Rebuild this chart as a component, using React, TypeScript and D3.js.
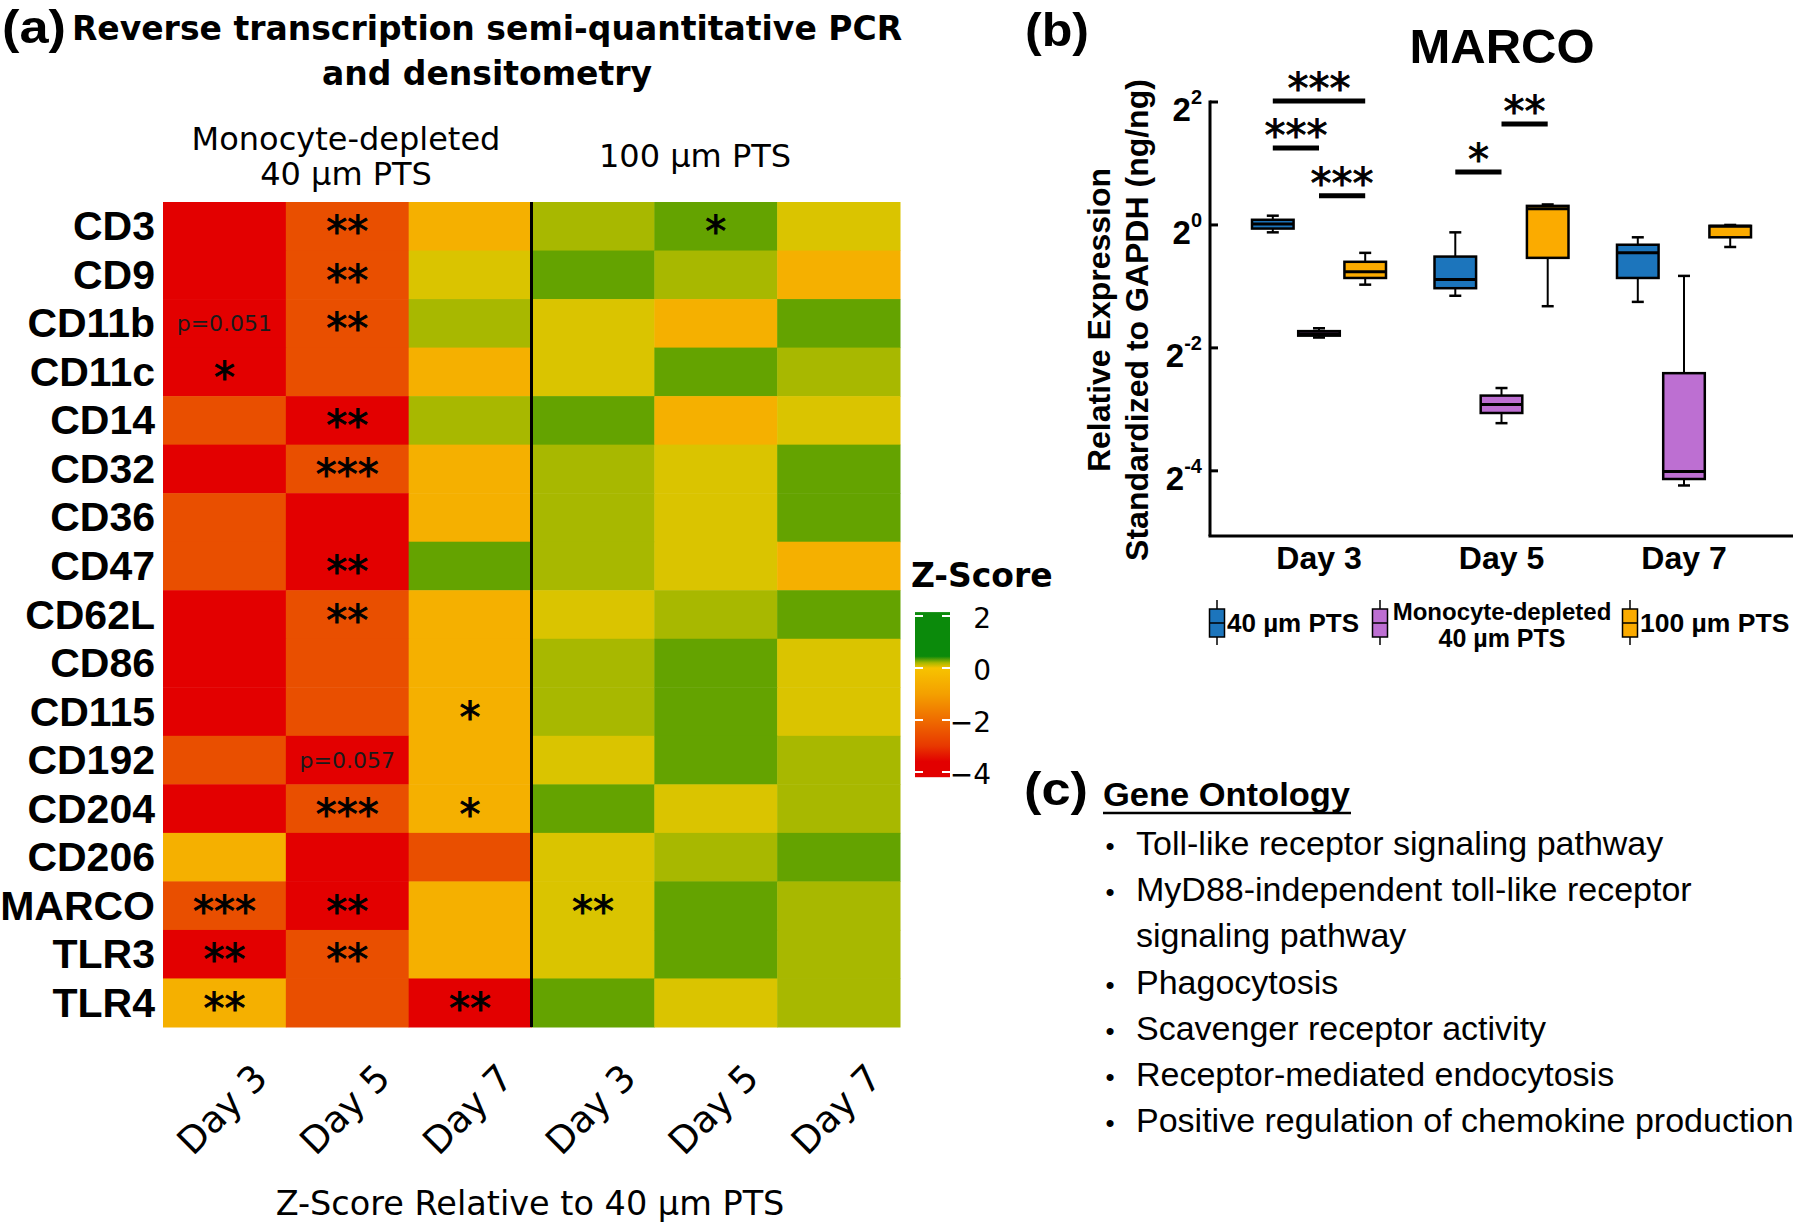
import React from "react";
import * as d3 from "d3";

const W = 1800, H = 1228;
const ARIAL = "'Liberation Sans', Arial, sans-serif";
const VERD = "'DejaVu Sans', Verdana, sans-serif";

// ---------- (a) heatmap data ----------
const genes = ["CD3", "CD9", "CD11b", "CD11c", "CD14", "CD32", "CD36", "CD47", "CD62L", "CD86", "CD115", "CD192", "CD204", "CD206", "MARCO", "TLR3", "TLR4"];
const heatDays = ["Day 3", "Day 5", "Day 7", "Day 3", "Day 5", "Day 7"];

// z-score vs 40 um PTS, monocyte-depleted 40 um PTS (day 3, 5, 7)
const zMono = [
  [-3.5, -2.3, -0.9], [-3.4, -2.2, -0.2], [-3.3, -2.4, 0.3], [-3.6, -2.3, -0.9],
  [-2.5, -3.5, 0.3], [-3.5, -2.4, -0.9], [-2.4, -3.6, -0.9], [-2.3, -3.4, 0.8],
  [-3.5, -2.4, -0.9], [-3.6, -2.3, -0.9], [-3.4, -2.4, -0.9], [-2.4, -3.3, -0.8],
  [-3.5, -2.3, -0.9], [-0.9, -3.6, -2.4], [-2.4, -3.5, -0.9], [-3.5, -2.4, -0.9],
  [-0.9, -2.4, -3.6],
];
// 100 um PTS (day 3, 5, 7)
const z100 = [
  [0.3, 0.9, -0.2], [0.8, 0.3, -0.9], [-0.2, -0.8, 0.9], [-0.2, 0.8, 0.3],
  [0.9, -0.8, -0.2], [0.3, -0.2, 0.8], [0.3, -0.2, 0.9], [0.3, -0.2, -0.9],
  [-0.2, 0.3, 0.8], [0.3, 0.9, -0.2], [0.3, 0.9, -0.2], [-0.2, 0.9, 0.3],
  [0.8, -0.2, 0.3], [-0.2, 0.3, 0.9], [-0.2, 0.9, 0.3], [-0.2, 0.9, 0.3],
  [0.8, -0.2, 0.3],
];
const sigMono = [
  ["", "**", ""], ["", "**", ""], ["p=0.051", "**", ""], ["*", "", ""],
  ["", "**", ""], ["", "***", ""], ["", "", ""], ["", "**", ""],
  ["", "**", ""], ["", "", ""], ["", "", "*"], ["", "p=0.057", ""],
  ["", "***", "*"], ["", "", ""], ["***", "**", ""], ["**", "**", ""],
  ["**", "", "**"],
];
const sig100 = [
  ["", "*", ""], ["", "", ""], ["", "", ""], ["", "", ""],
  ["", "", ""], ["", "", ""], ["", "", ""], ["", "", ""],
  ["", "", ""], ["", "", ""], ["", "", ""], ["", "", ""],
  ["", "", ""], ["", "", ""], ["**", "", ""], ["", "", ""],
  ["", "", ""],
];

const zThresholds = [-3, -1.6, -0.5, 0.05, 0.6];
const zColors = ["#e30000", "#e94f00", "#f5b000", "#dac400", "#a8b800", "#64a300"];
const barTicks = [2, 0, -2, -4];
const barStops = [2.2, 0.45, 0.2, 0, -1, -2, -3, -3.6, -4.3];
const barColors = ["#0b8a0b", "#0b8a0b", "#a9b800", "#f7c300", "#f4a000", "#ef6c00", "#e83800", "#e20000", "#e20000"];

// ---------- (b) MARCO box plot data ----------
const days = ["Day 3", "Day 5", "Day 7"];
const groups = ["40 µm PTS", "Monocyte-depleted 40 µm PTS", "100 µm PTS"];
const groupColors = ["#1c75bc", "#bd6fd2", "#fbab00"];
// [min, q1, median, q3, max] per day
const stats40 = [[0.92, 0.96, 1.01, 1.06, 1.11], [0.45, 0.49, 0.54, 0.70, 0.92], [0.42, 0.55, 0.73, 0.80, 0.87]];
const statsMono = [[0.281, 0.287, 0.293, 0.302, 0.312], [0.107, 0.12, 0.132, 0.146, 0.159], [0.053, 0.057, 0.062, 0.188, 0.563]];
const stats100 = [[0.51, 0.55, 0.59, 0.66, 0.73], [0.40, 0.69, 1.2, 1.24, 1.26], [0.78, 0.87, 0.985, 0.99, 1.0]];
const yTickExps = [2, 0, -2, -4];
// significance brackets
const sigDay = ["Day 3", "Day 3", "Day 3", "Day 5", "Day 5"];
const sigFrom = [0, 0, 1, 0, 1];
const sigTo = [2, 1, 2, 1, 2];
const sigAt = [4.05, 2.38, 1.39, 1.815, 3.12];
const sigText = ["***", "***", "***", "*", "**"];

// ---------- (c) gene ontology ----------
const goTerms = [
  ["Toll-like receptor signaling pathway"],
  ["MyD88-independent toll-like receptor", "signaling pathway"],
  ["Phagocytosis"],
  ["Scavenger receptor activity"],
  ["Receptor-mediated endocytosis"],
  ["Positive regulation of chemokine production"],
];

const Star = (p: { x: number; y: number; s: string; size: number }) => (
  <text x={p.x} y={p.y} textAnchor="middle" fontFamily={VERD} fontSize={p.size} stroke="#000" strokeWidth={0.9}>{p.s}</text>
);

const PanelLabel = (p: { x: number; y: number; s: string }) => (
  <text x={p.x} y={p.y} fontFamily={ARIAL} fontWeight="bold" fontSize={46} textLength={64} lengthAdjust="spacingAndGlyphs">{p.s}</text>
);

function PanelA() {
  const x = d3.scaleBand<number>().domain(d3.range(6)).range([163, 900]);
  const y = d3.scaleBand<string>().domain(genes).range([202, 1027]);
  const color = d3.scaleThreshold<number, string>().domain(zThresholds).range(zColors);
  const zAll = genes.map((g, i) => [...zMono[i], ...z100[i]]);
  const sigAll = genes.map((g, i) => [...sigMono[i], ...sig100[i]]);
  const bw = x.bandwidth(), bh = y.bandwidth();

  const cb = d3.scaleLinear().domain([2, -4]).range([616, 772]);
  const cbTop = cb(2.15), cbBot = cb(-4.2);

  return (
    <g>
      <PanelLabel x={2} y={43} s="(a)" />
      <text x={487} y={40} textAnchor="middle" fontFamily={VERD} fontWeight="bold" fontSize={33}>Reverse transcription semi-quantitative PCR</text>
      <text x={487} y={85} textAnchor="middle" fontFamily={VERD} fontWeight="bold" fontSize={33}>and densitometry</text>
      <text x={346} y={150} textAnchor="middle" fontFamily={VERD} fontSize={32}>Monocyte-depleted</text>
      <text x={346} y={185} textAnchor="middle" fontFamily={VERD} fontSize={32}>40 µm PTS</text>
      <text x={695} y={167} textAnchor="middle" fontFamily={VERD} fontSize={32}>100 µm PTS</text>

      {genes.map((g, i) =>
        zAll[i].map((v, j) => (
          <rect key={g + j} x={x(j)} y={y(g)} width={bw + 0.5} height={bh + 0.5} fill={color(v)} />
        ))
      )}
      <line x1={x(3)} x2={x(3)} y1={y.range()[0]} y2={y.range()[1]} stroke="#000" strokeWidth={3} />

      {genes.map((g, i) =>
        sigAll[i].map((s, j) => {
          if (!s) return null;
          const cx = (x(j) as number) + bw / 2;
          const cy = (y(g) as number) + bh / 2;
          if (s.startsWith("p")) {
            return <text key={g + "s" + j} x={cx} y={cy + 8} textAnchor="middle" fontFamily={VERD} fontSize={22} fill="#1a1a1a">{s}</text>;
          }
          return <Star key={g + "s" + j} x={cx} y={cy + 20} s={s} size={42} />;
        })
      )}

      {genes.map((g) => (
        <text key={g} x={155} y={(y(g) as number) + bh / 2 + 14} textAnchor="end" fontFamily={ARIAL} fontWeight="bold" fontSize={41}>{g}</text>
      ))}

      {heatDays.map((d, j) => {
        const cx = (x(j) as number) + bw / 2;
        return (
          <text key={"hd" + j} transform={`translate(${cx + 45},${1080}) rotate(-45)`} textAnchor="end" fontFamily={VERD} fontSize={37}>{d}</text>
        );
      })}
      <text x={530} y={1215} textAnchor="middle" fontFamily={VERD} fontSize={33.5}>Z-Score Relative to 40 µm PTS</text>

      {/* colour bar */}
      <defs>
        <linearGradient id="zgrad" x1="0" y1={cbTop} x2="0" y2={cbBot} gradientUnits="userSpaceOnUse">
          {barStops.map((v, k) => (
            <stop key={k} offset={(cb(v) - cbTop) / (cbBot - cbTop)} stopColor={barColors[k]} />
          ))}
        </linearGradient>
      </defs>
      <text x={911} y={587} fontFamily={VERD} fontWeight="bold" fontSize={33}>Z-Score</text>
      <rect x={915} y={cbTop} width={35} height={cbBot - cbTop} fill="url(#zgrad)" />
      {barTicks.map((t) => (
        <g key={"cb" + t}>
          <line x1={915} x2={923} y1={cb(t)} y2={cb(t)} stroke="#fff" strokeWidth={2} />
          <line x1={942} x2={950} y1={cb(t)} y2={cb(t)} stroke="#fff" strokeWidth={2} />
          <text x={991} y={cb(t) + 12} textAnchor="end" fontFamily={VERD} fontSize={28}>{t < 0 ? "\u2212" + Math.abs(t) : t}</text>
        </g>
      ))}
    </g>
  );
}

function PanelB() {
  const y = d3.scaleLog().base(2).domain([Math.pow(2, -5.06), 4]).range([536, 102]);
  const xDay = d3.scalePoint<string>().domain(days).range([1319, 1684]);
  const xGroup = d3.scaleBand<string>().domain(groups).range([-67, 67]).paddingInner(0.1);
  const bw = xGroup.bandwidth();
  const allStats = [stats40, statsMono, stats100];
  const gx = (d: string, k: number) => (xDay(d) as number) + (xGroup(groups[k]) as number) + bw / 2;
  const axisX = 1210, axisY = 536;

  return (
    <g>
      <PanelLabel x={1025} y={46} s="(b)" />
      <text x={1502} y={63} textAnchor="middle" fontFamily={ARIAL} fontWeight="bold" fontSize={49}>MARCO</text>

      <g transform="translate(1110,320) rotate(-90)">
        <text textAnchor="middle" fontFamily={ARIAL} fontWeight="bold" fontSize={32}>Relative Expression</text>
      </g>
      <g transform="translate(1148,320) rotate(-90)">
        <text textAnchor="middle" fontFamily={ARIAL} fontWeight="bold" fontSize={32}>Standardized to GAPDH (ng/ng)</text>
      </g>

      <line x1={axisX} x2={axisX} y1={y(4) - 1.5} y2={axisY} stroke="#000" strokeWidth={3} />
      <line x1={axisX - 1.5} x2={1793} y1={axisY} y2={axisY} stroke="#000" strokeWidth={3} />
      {yTickExps.map((e) => {
        const ty = y(Math.pow(2, e));
        return (
          <g key={"yt" + e}>
            <line x1={axisX} x2={axisX + 8} y1={ty} y2={ty} stroke="#000" strokeWidth={3} />
            <text x={1202} y={ty + 19} textAnchor="end" fontFamily={ARIAL} fontWeight="bold" fontSize={33}>
              2<tspan dy={-17} fontSize={20}>{e}</tspan>
            </text>
          </g>
        );
      })}
      {days.map((d) => (
        <text key={d} x={xDay(d)} y={569} textAnchor="middle" fontFamily={ARIAL} fontWeight="bold" fontSize={32}>{d}</text>
      ))}

      {days.map((d, i) =>
        allStats.map((st, k) => {
          const [mn, q1, md, q3, mx] = st[i];
          const cx = gx(d, k);
          return (
            <g key={d + k}>
              <line x1={cx} x2={cx} y1={y(mx)} y2={y(mn)} stroke="#000" strokeWidth={2} />
              <line x1={cx - 6} x2={cx + 6} y1={y(mx)} y2={y(mx)} stroke="#000" strokeWidth={2.5} />
              <line x1={cx - 6} x2={cx + 6} y1={y(mn)} y2={y(mn)} stroke="#000" strokeWidth={2.5} />
              <rect x={cx - bw / 2} y={y(q3)} width={bw} height={Math.max(y(q1) - y(q3), 1)} fill={groupColors[k]} stroke="#000" strokeWidth={2.5} />
              <line x1={cx - bw / 2} x2={cx + bw / 2} y1={y(md)} y2={y(md)} stroke="#000" strokeWidth={3} />
            </g>
          );
        })
      )}

      {sigText.map((s, k) => {
        const x1 = gx(sigDay[k], sigFrom[k]);
        const x2 = gx(sigDay[k], sigTo[k]);
        const yy = y(sigAt[k]);
        return (
          <g key={"sig" + k}>
            <line x1={x1} x2={x2} y1={yy} y2={yy} stroke="#000" strokeWidth={5} />
            <Star x={(x1 + x2) / 2} y={yy + 2} s={s} size={42} />
          </g>
        );
      })}

      {/* legend */}
      {[1217, 1380, 1630].map((lx, k) => (
        <g key={"lg" + k}>
          <line x1={lx} x2={lx} y1={600} y2={645} stroke="#000" strokeWidth={1.5} />
          <rect x={lx - 7.5} y={609} width={15} height={28} fill={groupColors[k]} stroke="#000" strokeWidth={1.5} />
          <line x1={lx - 7.5} x2={lx + 7.5} y1={623} y2={623} stroke="#000" strokeWidth={1.5} />
        </g>
      ))}
      <text x={1227} y={632} fontFamily={ARIAL} fontWeight="bold" fontSize={26}>40 µm PTS</text>
      <text x={1502} y={620} textAnchor="middle" fontFamily={ARIAL} fontWeight="bold" fontSize={24}>Monocyte-depleted</text>
      <text x={1502} y={647} textAnchor="middle" fontFamily={ARIAL} fontWeight="bold" fontSize={25}>40 µm PTS</text>
      <text x={1640} y={632} fontFamily={ARIAL} fontWeight="bold" fontSize={26.5}>100 µm PTS</text>
    </g>
  );
}

function PanelC() {
  const lineH = 46.2;
  let row = 0;
  const rows: { text: string; bullet: boolean; idx: number }[] = [];
  goTerms.forEach((t) => {
    t.forEach((line, k) => {
      rows.push({ text: line, bullet: k === 0, idx: row });
      row++;
    });
  });
  return (
    <g>
      <PanelLabel x={1024} y={805} s="(c)" />
      <text x={1103} y={806} fontFamily={ARIAL} fontWeight="bold" fontSize={34} textLength={247} lengthAdjust="spacingAndGlyphs">Gene Ontology</text>
      <line x1={1103} x2={1351} y1={813} y2={813} stroke="#000" strokeWidth={2.5} />
      {rows.map((r) => (
        <g key={"go" + r.idx}>
          {r.bullet && <text x={1110} y={855 + r.idx * lineH} textAnchor="middle" fontFamily={ARIAL} fontSize={26}>•</text>}
          <text x={1136} y={855 + r.idx * lineH} fontFamily={ARIAL} fontSize={34}>{r.text}</text>
        </g>
      ))}
    </g>
  );
}

export default function App() {
  return (
    <div style={{ position: "absolute", left: 0, top: 0 }}>
      <svg width={W} height={H} viewBox={`0 0 ${W} ${H}`} style={{ display: "block", background: "#fff" }}>
        <rect width={W} height={H} fill="#fff" />
        <PanelA />
        <PanelB />
        <PanelC />
      </svg>
    </div>
  );
}
